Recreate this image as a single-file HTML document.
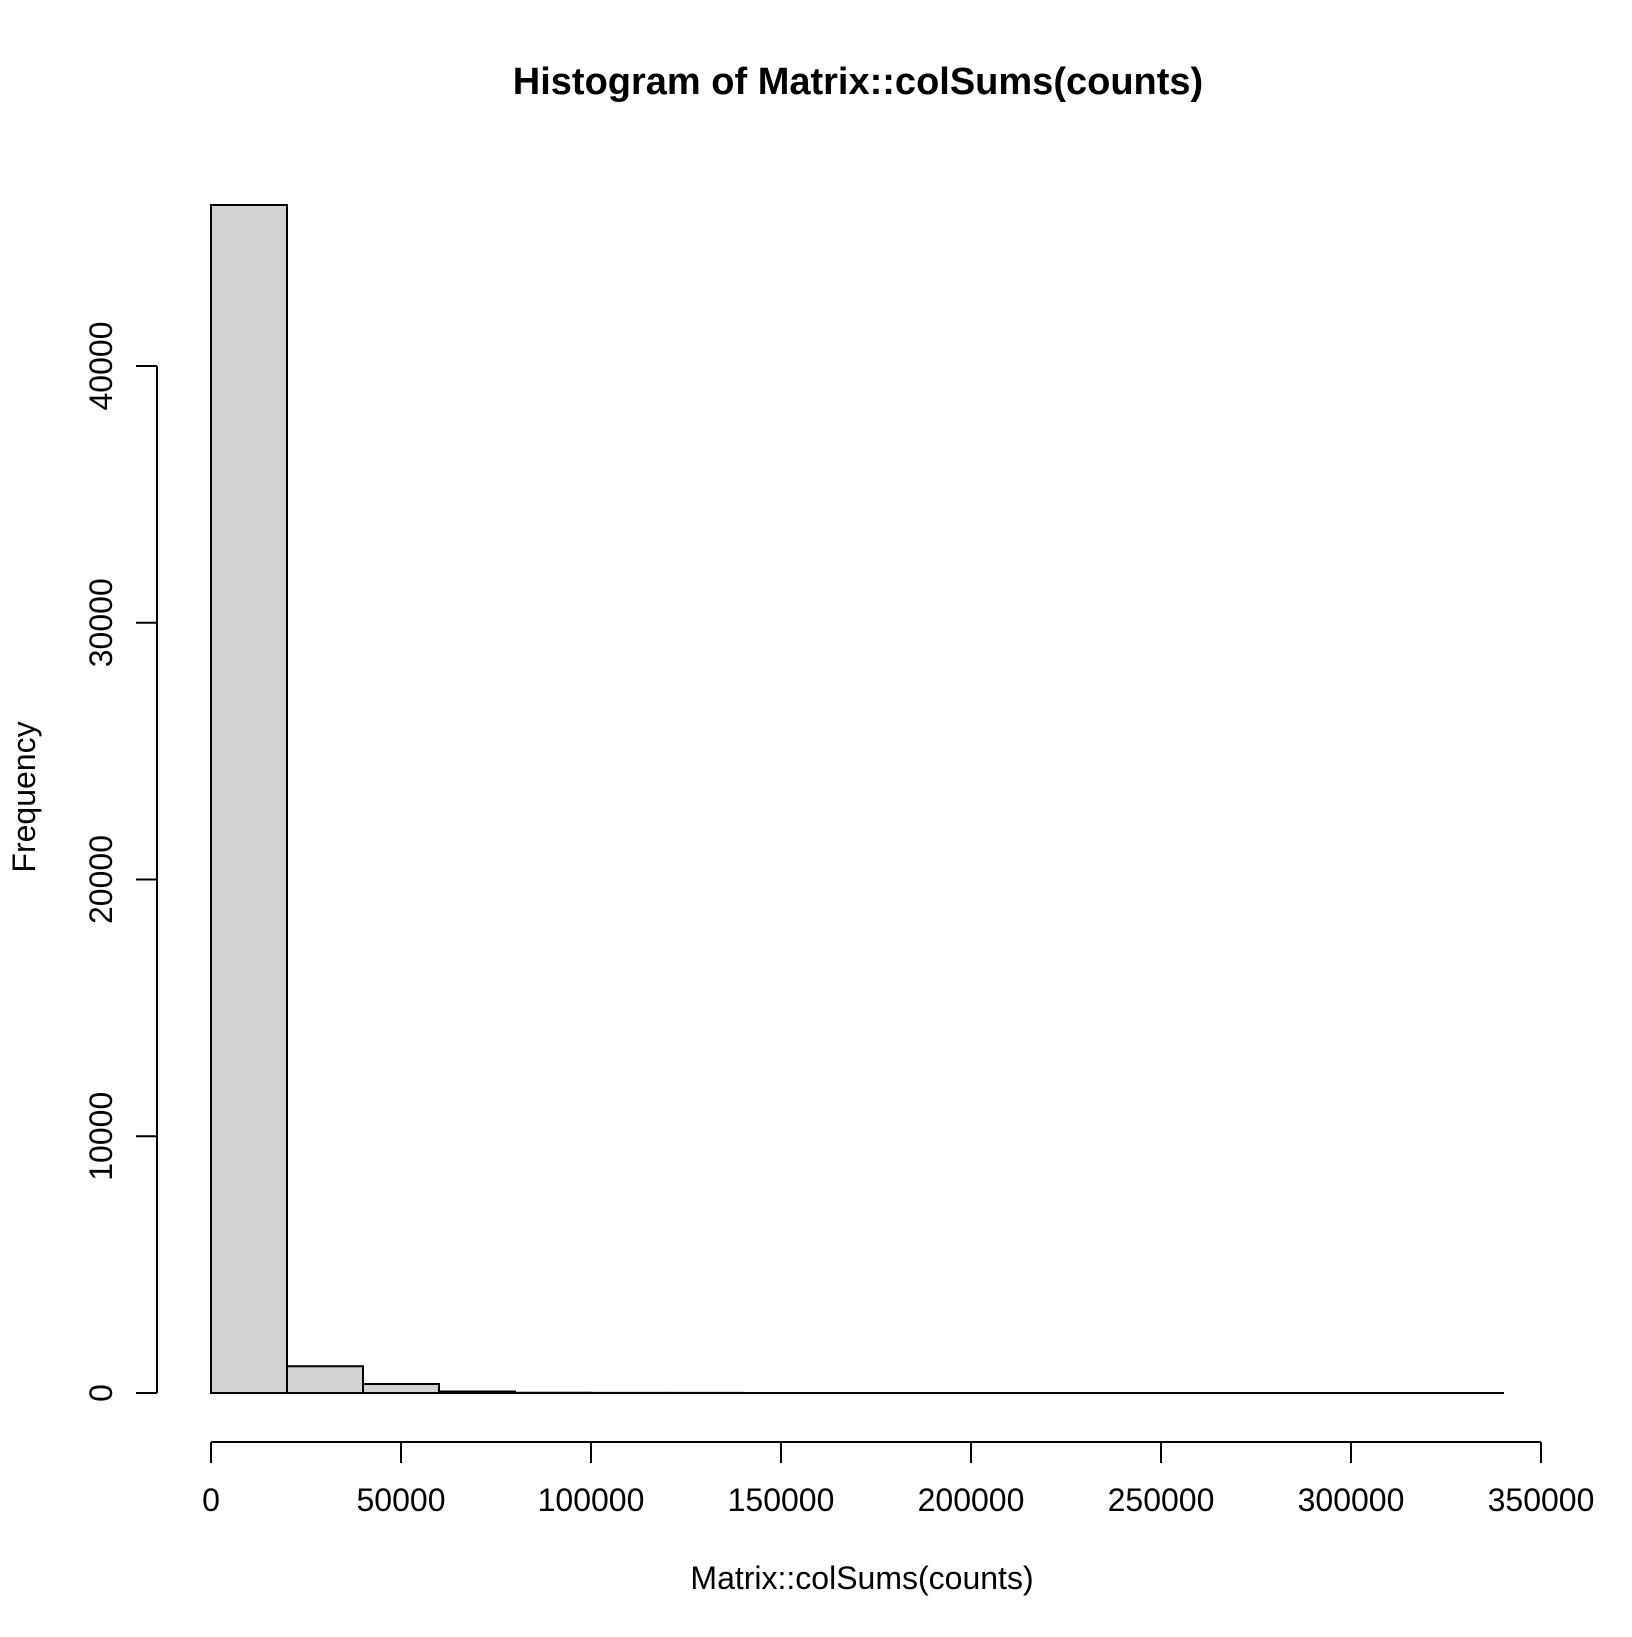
<!DOCTYPE html>
<html><head><meta charset="utf-8"><style>
html,body{margin:0;padding:0;background:#fff}
svg text{font-family:"Liberation Sans",Arial,sans-serif;fill:#000}
</style></head><body>
<svg id="chart" width="1632" height="1632" xmlns="http://www.w3.org/2000/svg">
<text x="858" y="94" font-size="38" font-weight="bold" text-anchor="middle">Histogram of Matrix::colSums(counts)</text>
<text x="862" y="1589" font-size="32" text-anchor="middle">Matrix::colSums(counts)</text>
<text x="0" y="0" font-size="32" text-anchor="middle" transform="translate(35,797) rotate(-90)">Frequency</text>
<g id="bars"></g>
<g id="xaxis"></g>
<g id="yaxis"></g>
</svg>
<script>
const binEdges=[0,20000,40000,60000,80000,100000,120000,140000,160000,180000,200000,220000,240000,260000,280000,300000,320000,340000];
const counts=[46270,1040,350,60,12,5,3,2,1,1,0,0,1,0,0,0,1];
const xTicks=[0,50000,100000,150000,200000,250000,300000,350000];
const yTicks=[0,10000,20000,30000,40000];
const NS="http://www.w3.org/2000/svg";
const X0=211,X1=1541,Y0=1393,Y1=366;
function sx(v){return X0+(v/350000)*(X1-X0);}
function sy(v){return Y0-(v/40000)*(Y0-Y1);}
function mk(tag,attrs,parent){const e=document.createElementNS(NS,tag);for(const k in attrs)e.setAttribute(k,attrs[k]);parent.appendChild(e);return e;}
const gb=document.getElementById('bars');
for(let i=0;i<counts.length;i++){
  const x=sx(binEdges[i]),x2=sx(binEdges[i+1]),y=sy(counts[i]);
  const r=mk('path',{d:'M'+x+','+Y0+' L'+x+','+y+' L'+x2+','+y+' L'+x2+','+Y0+' Z',fill:'#d3d3d3',stroke:'#000','stroke-width':2},gb);
  
  
}
const gx=document.getElementById('xaxis');
const xl=mk('line',{x1:sx(0),x2:sx(350000),y1:1442,y2:1442,stroke:'#000','stroke-width':2},gx);


xTicks.forEach(t=>{
  mk('line',{x1:sx(t),x2:sx(t),y1:1442,y2:1463,stroke:'#000','stroke-width':2},gx);
  const tx=mk('text',{x:sx(t),y:1511,'font-size':32,'text-anchor':'middle'},gx);
  tx.textContent=t;
  
  
});
const gy=document.getElementById('yaxis');
const yl=mk('line',{x1:157,x2:157,y1:sy(0),y2:sy(40000),stroke:'#000','stroke-width':2},gy);


yTicks.forEach(t=>{
  mk('line',{x1:136,x2:157,y1:sy(t),y2:sy(t),stroke:'#000','stroke-width':2},gy);
  const tx=mk('text',{x:0,y:0,'font-size':32,'text-anchor':'middle',transform:'translate(112,'+sy(t)+') rotate(-90)'},gy);
  tx.textContent=t;
  
  
});
</script>
</body></html>
